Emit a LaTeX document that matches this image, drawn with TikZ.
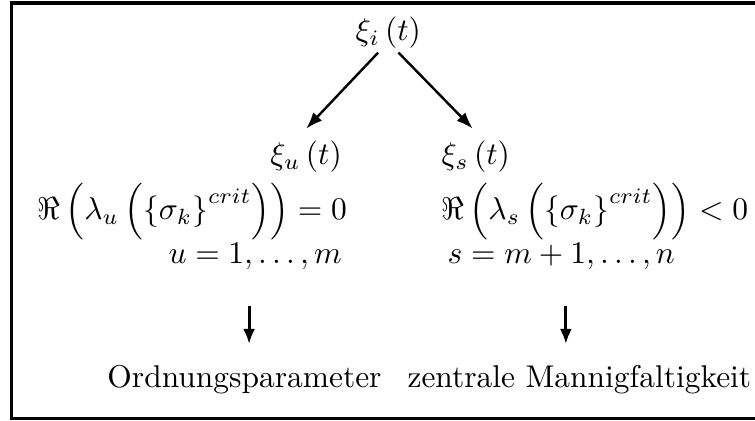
\documentclass[tikz,border=0pt]{standalone}
\usepackage{amsmath,amssymb}
\usepackage{tikz}
\usetikzlibrary{arrows.meta,positioning,calc}
\tikzset{
  lbl/.style={inner sep=0pt, outer sep=0pt, scale=1.04},
  frame/.style={line width=1.1pt},
  pre/.style={-{Latex[length=5.5pt,width=4pt]}, line width=0.8pt},
  down/.style={-{Latex[length=5pt,width=4pt]}, line width=1pt},
}

\begin{document}
\begin{tikzpicture}[x=1cm,y=1cm]
\useasboundingbox (0,0) rectangle (8.77,4.89);
\draw[frame] (8.77,4.855) -| (0.133,0.029) -- (8.77,0.029);
% top and the two branches
\node[lbl, anchor=base] (xi) at (4.51,4.42) {$\xi_i\left(t\right)$};
\node[lbl, anchor=base east] (xu) at (3.97,2.98) {$\xi_u\left(t\right)$};
\node[lbl, anchor=base west] (xs) at (5.13,2.98) {$\xi_s\left(t\right)$};
\node[lbl, anchor=base east] (ru) at (4.03,2.34) {$\Re\left(\lambda_u\left(\left\{\sigma_k\right\}^{crit}\right)\right)=0$};
\node[lbl, anchor=base west] (rs) at (5.13,2.34) {$\Re\left(\lambda_s\left(\left\{\sigma_k\right\}^{crit}\right)\right)<0$};
\node[lbl, anchor=base east] (uu) at (3.97,1.83) {$u=1,\ldots,m$};
\node[lbl, anchor=base west] (ss) at (5.20,1.83) {$s=m+1,\ldots,n$};
\node[lbl, anchor=base] (ordn) at (2.84,0.39) {Ordnungsparameter};
\node[lbl, anchor=base] (zent) at (6.73,0.39) {zentrale Mannigfaltigkeit};
\draw[pre, shorten <=2pt] ([xshift=-2pt]xi.south) -- ([yshift=4pt]xu.north);
\draw[pre, shorten <=2pt] ([xshift=2pt]xi.south) -- ([xshift=-1pt,yshift=4pt]xs.north);
\draw[down, shorten <=12pt, shorten >=7pt] ([xshift=-2pt]uu.south) -- ([xshift=-2pt]uu.south |- ordn.north);
\draw[down, shorten <=12pt, shorten >=7pt] ([xshift=1.5pt]ss.south) -- ([xshift=1.5pt]ss.south |- zent.north);
\end{tikzpicture}
\end{document}
